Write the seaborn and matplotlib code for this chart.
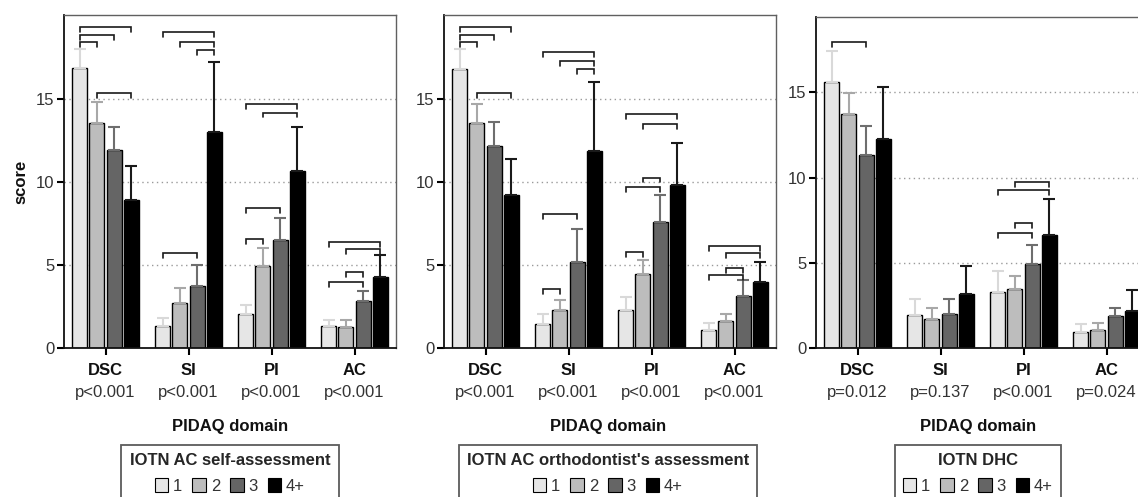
import numpy as np
import pandas as pd
import matplotlib
matplotlib.use("Agg")
import matplotlib.pyplot as plt
from matplotlib.patches import Patch
import seaborn as sns

# ---------------- data ----------------
domains = ["DSC", "SI", "PI", "AC"]
groups = ["1", "2", "3", "4+"]

# panel 1: IOTN AC self-assessment (means and upper error limits)
self_g1 = [16.9, 1.3, 2.07, 1.3]
self_g2 = [13.55, 2.7, 4.96, 1.25]
self_g3 = [11.95, 3.75, 6.49, 2.85]
self_g4 = [8.9, 13.0, 10.7, 4.3]
self_u1 = [18.0, 1.8, 2.6, 1.7]
self_u2 = [14.86, 3.6, 6.02, 1.7]
self_u3 = [13.33, 5.0, 7.83, 3.45]
self_u4 = [11.0, 17.25, 13.3, 5.58]

# panel 2: IOTN AC orthodontist's assessment
orth_g1 = [16.8, 1.47, 2.3, 1.1]
orth_g2 = [13.55, 2.3, 4.46, 1.6]
orth_g3 = [12.2, 5.16, 7.6, 3.15]
orth_g4 = [9.2, 11.9, 9.82, 3.95]
orth_u1 = [18.0, 2.07, 3.07, 1.5]
orth_u2 = [14.7, 2.9, 5.28, 2.07]
orth_u3 = [13.6, 7.2, 9.24, 4.1]
orth_u4 = [11.4, 16.06, 12.35, 5.16]

# panel 3: IOTN DHC
dhc_g1 = [15.6, 1.92, 3.27, 0.94]
dhc_g2 = [13.75, 1.7, 3.46, 1.08]
dhc_g3 = [11.33, 2.0, 4.95, 1.86]
dhc_g4 = [12.27, 3.19, 6.65, 2.2]
dhc_u1 = [17.4, 2.9, 4.54, 1.4]
dhc_u2 = [14.97, 2.37, 4.2, 1.47]
dhc_u3 = [13.0, 2.9, 6.07, 2.35]
dhc_u4 = [15.3, 4.8, 8.75, 3.38]

p_self = ["p<0.001", "p<0.001", "p<0.001", "p<0.001"]
p_orth = ["p<0.001", "p<0.001", "p<0.001", "p<0.001"]
p_dhc = ["p=0.012", "p=0.137", "p<0.001", "p=0.024"]

# significance brackets: (domain index, group a, group b, height)
br_self = [(0, 1, 2, 18.47), (0, 1, 3, 18.9), (0, 1, 4, 19.34), (0, 2, 4, 15.4),
           (1, 1, 4, 19.04), (1, 2, 4, 18.47), (1, 3, 4, 17.97), (1, 1, 3, 5.72),
           (2, 1, 4, 14.74), (2, 2, 4, 14.2), (2, 1, 3, 8.43), (2, 1, 2, 6.6),
           (3, 1, 4, 6.42), (3, 2, 4, 5.96), (3, 2, 3, 4.58), (3, 1, 3, 4.0)]
br_orth = [(0, 1, 2, 18.47), (0, 1, 3, 18.9), (0, 1, 4, 19.34), (0, 2, 4, 15.4),
           (1, 1, 4, 17.87), (1, 2, 4, 17.3), (1, 3, 4, 16.83), (1, 1, 3, 8.07),
           (1, 1, 2, 3.55),
           (2, 1, 4, 14.1), (2, 2, 4, 13.53), (2, 2, 3, 10.28), (2, 1, 3, 9.68),
           (2, 1, 2, 5.76),
           (3, 1, 4, 6.17), (3, 2, 4, 5.72), (3, 2, 3, 4.8), (3, 1, 3, 4.4)]
br_dhc = [(0, 1, 3, 17.96), (2, 2, 4, 9.75), (2, 1, 4, 9.26), (2, 2, 3, 7.32),
          (2, 1, 3, 6.75)]

titles = ["IOTN AC self-assessment", "IOTN AC orthodontist's assessment", "IOTN DHC"]

# ---------------- style ----------------
sns.set_theme(style="white")
plt.rcParams["font.family"] = ["Liberation Sans", "DejaVu Sans"]

bar_colors = ["#e6e6e6", "#bdbdbd", "#656565", "#000000"]
err_colors = ["#d9d9d9", "#a8a8a8", "#6e6e6e", "#1a1a1a"]

W, H = 1138, 497
fig = plt.figure(figsize=(W / 100, H / 100), dpi=100, facecolor="white")


def frac_rect(left, top, right, bottom):
    return [left / W, 1 - bottom / H, (right - left) / W, (bottom - top) / H]


panels = [
    dict(means=[self_g1, self_g2, self_g3, self_g4], ups=[self_u1, self_u2, self_u3, self_u4],
         p=p_self, br=br_self, title=titles[0], rect=frac_rect(64, 15, 396, 348),
         ylim=20.08, lab_x=230),
    dict(means=[orth_g1, orth_g2, orth_g3, orth_g4], ups=[orth_u1, orth_u2, orth_u3, orth_u4],
         p=p_orth, br=br_orth, title=titles[1], rect=frac_rect(444, 15, 776, 348),
         ylim=20.08, lab_x=608),
    dict(means=[dhc_g1, dhc_g2, dhc_g3, dhc_g4], ups=[dhc_u1, dhc_u2, dhc_u3, dhc_u4],
         p=p_dhc, br=br_dhc, title=titles[2], rect=frac_rect(816, 17, 1148, 348),
         ylim=19.42, lab_x=978),
]

for pi_, P in enumerate(panels):
    ax = fig.add_axes(P["rect"])
    rows = []
    for g, vals in zip(groups, P["means"]):
        for d, v in zip(domains, vals):
            rows.append(dict(domain=d, group=g, score=v))
    df = pd.DataFrame(rows)
    sns.barplot(data=df, x="domain", y="score", hue="group", order=domains,
                hue_order=groups, palette=bar_colors, width=0.83, gap=0.12,
                edgecolor="black", linewidth=1.0, errorbar=None, legend=False,
                ax=ax, zorder=2, saturation=1)

    bar_conts = list(ax.containers)
    centers = []
    for k, cont in enumerate(bar_conts):
        cx = []
        for i, patch in enumerate(cont.patches):
            x = patch.get_x() + patch.get_width() / 2
            cx.append(x)
            m = P["means"][k][i]
            u = P["ups"][k][i]
            ax.errorbar([x], [m], yerr=[[0], [u - m]], fmt="none",
                        ecolor=err_colors[k], elinewidth=1.5, capsize=4.3,
                        capthick=1.5, zorder=3)
        centers.append(cx)

    # significance brackets
    drop = 0.3
    for d, a, b, yv in P["br"]:
        xa = centers[a - 1][d]
        xb = centers[b - 1][d]
        ax.plot([xa, xa, xb, xb], [yv - drop, yv, yv, yv - drop],
                color="#1a1a1a", lw=1.2, zorder=4, solid_joinstyle="miter")

    ax.set_xlim(-0.5, 3.5)
    ax.set_ylim(0, P["ylim"])
    ax.set_yticks([0, 5, 10, 15])
    ax.set_yticklabels(["0", "5", "10", "15"], fontsize=12, color="#333333")
    for yv in [5, 10, 15]:
        ax.axhline(yv, color="#9a9a9a", lw=1.0, ls=(0, (1, 2.5)), zorder=1)
    ax.set_xticks(range(4))
    ax.set_xticklabels(domains, fontsize=12, fontweight="bold", color="#111111")
    ax.tick_params(axis="x", direction="out", length=5, width=1.5, pad=6,
                   bottom=True, color="black")
    ax.tick_params(axis="y", direction="out", length=5, width=1.5, pad=2,
                   left=True, color="black")
    ax.set_xlabel("")
    if pi_ == 0:
        ax.set_ylabel("score", fontsize=12, fontweight="bold", color="#111111")
        ax.yaxis.set_label_coords(-36 / 332, 0.5)
    else:
        ax.set_ylabel("")

    for side in ["left", "bottom"]:
        ax.spines[side].set_color("#111111")
        ax.spines[side].set_linewidth(1.3)
    for side in ["top", "right"]:
        ax.spines[side].set_color("#606060")
        ax.spines[side].set_linewidth(1.0)
        ax.spines[side].set_visible(True)

    # p-values under tick labels
    for i, ptxt in enumerate(P["p"]):
        ax.annotate(ptxt, xy=(i, 0), xycoords=("data", "axes fraction"),
                    xytext=(0, -44), textcoords="offset pixels",
                    ha="center", va="center", fontsize=12, color="#333333")

    # axis title
    fig.text(P["lab_x"] / W, 1 - 426 / H, "PIDAQ domain", ha="center", va="center",
             fontsize=12, fontweight="bold", color="#111111")

    # legend
    handles = [Patch(facecolor=c, edgecolor="black", lw=0.8) for c in bar_colors]
    leg = fig.legend(handles, groups, title=P["title"], ncol=4,
                     loc="upper center", bbox_to_anchor=(P["lab_x"] / W, 1 - 445 / H),
                     bbox_transform=fig.transFigure, fontsize=12, borderaxespad=0,
                     title_fontproperties=dict(weight="bold", size=12),
                     frameon=True, fancybox=False, edgecolor="#333333",
                     handlelength=0.8, handleheight=0.9, handletextpad=0.3,
                     columnspacing=0.6, borderpad=0.5, labelspacing=0.6)
    leg.get_frame().set_linewidth(1.3)
    for t in leg.get_texts():
        t.set_color("#333333")

fig.savefig("out.png", dpi=100, facecolor="white")
